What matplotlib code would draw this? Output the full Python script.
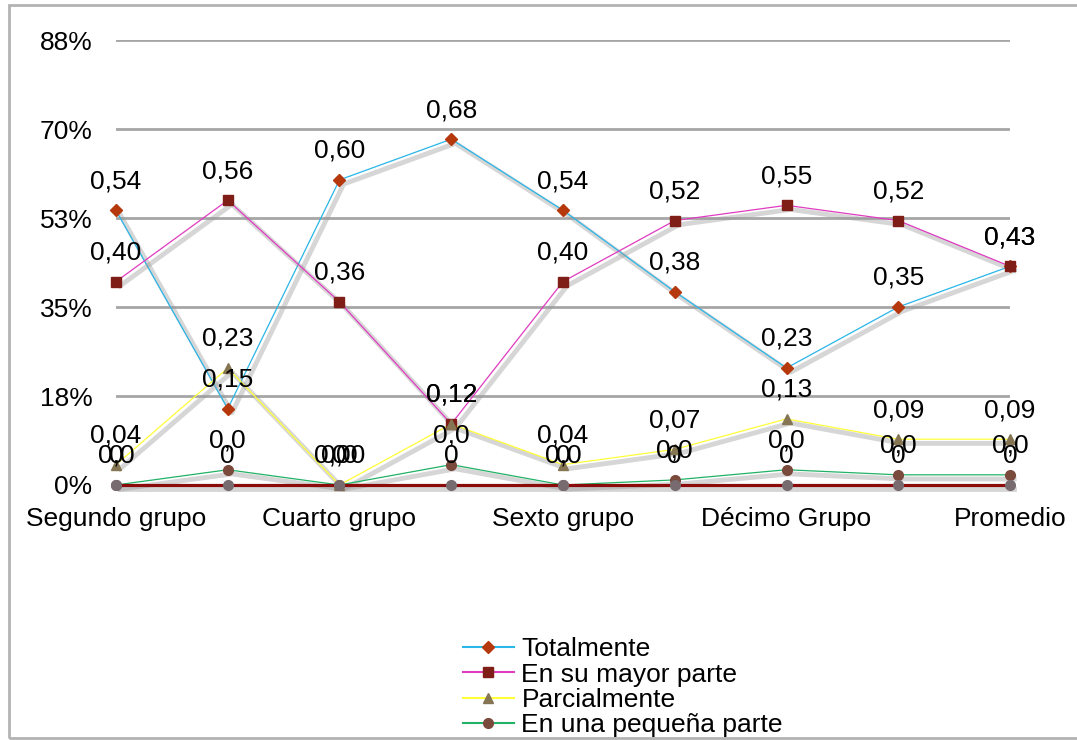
import matplotlib.pyplot as plt
import matplotlib.patheffects as pe
from matplotlib.patches import Rectangle
import numpy as np

plt.rcParams['font.family'] = ['Liberation Sans', 'DejaVu Sans']

# Datos
grupos = ["Segundo grupo", "Tercer grupo", "Cuarto grupo", "Quinto grupo",
          "Sexto grupo", "Noveno grupo", "Décimo Grupo", "Undécimo grupo", "Promedio"]

totalmente = [0.54, 0.15, 0.60, 0.68, 0.54, 0.38, 0.23, 0.35, 0.43]
mayor_parte = [0.40, 0.56, 0.36, 0.12, 0.40, 0.52, 0.55, 0.52, 0.43]
parcialmente = [0.04, 0.23, 0.00, 0.12, 0.04, 0.07, 0.13, 0.09, 0.09]
pequena_parte = [0.00, 0.03, 0.00, 0.04, 0.00, 0.01, 0.03, 0.02, 0.02]
nada = [0, 0, 0, 0, 0, 0, 0, 0, 0]

y_ticks = [0, 0.175, 0.35, 0.525, 0.70, 0.875]
y_labels = ["0%", "18%", "35%", "53%", "70%", "88%"]

# nombre, valores, color línea, color marcador, marcador, decimales etiqueta
series = [
    ("Totalmente", totalmente, "#29B6E8", "#B5390C", "D", 2),
    ("En su mayor parte", mayor_parte, "#E03CC0", "#7E1E16", "s", 2),
    ("Parcialmente", parcialmente, "#FFFF3A", "#857552", "^", 2),
    ("En una pequeña parte", pequena_parte, "#22B265", "#7A4A3C", "o", 1),
    ("Nada", nada, "#8B0A0A", "#776B6F", "o", 0),
]

fig = plt.figure(figsize=(10.77, 7.40), dpi=100)
ax = fig.add_axes([0.1077, 0.3446, 0.8301, 0.6013])

x = np.arange(len(grupos))
sombra = [pe.SimpleLineShadow(offset=(3, -3), shadow_color="#999999", alpha=0.4, linewidth=3.5),
          pe.Normal()]

handles = []
for i, (nombre, vals, lc, mc, mk, dec) in enumerate(series):
    lw = 2.3 if nombre == "Nada" else 0.9
    ms = 7 if mk != "D" else 6
    ax.plot(x, vals, color=lc, linewidth=lw, path_effects=sombra, zorder=3 + i * 0.1,
            clip_on=False)
    ax.plot(x, vals, linestyle="none", marker=mk, markersize=ms,
            markerfacecolor=mc, markeredgecolor=mc, zorder=4 + i * 0.1, clip_on=False)
    for xi, v in zip(x, vals):
        txt = f"{v:.{dec}f}".replace(".", ",")
        ax.annotate(txt, (xi, v), xytext=(0, 21), textcoords="offset points",
                    ha="center", va="center", fontsize=19, zorder=6)
    h, = plt.plot([], [], color=lc, linewidth=1.5, marker=mk, markersize=ms,
                  markerfacecolor=mc, markeredgecolor=mc)
    handles.append(h)

# leyenda: en el original solo se ven las cuatro primeras entradas
fig.legend(handles[:4], [s[0] for s in series[:4]], loc="upper left",
           bbox_to_anchor=(0.418, 0.1565), bbox_transform=fig.transFigure, frameon=False,
           fontsize=19, handlelength=1.9, handletextpad=0.3, labelspacing=0.05, borderpad=0)

ax.set_xlim(0, len(grupos) - 1)
ax.set_ylim(0, 0.875)
ax.set_yticks(y_ticks)
ax.set_yticklabels(y_labels)
ax.set_xticks(x)
ax.set_xticklabels(grupos)
for j, lab in enumerate(ax.get_xticklabels()):
    lab.set_visible(j % 2 == 0)
ax.tick_params(axis="both", length=0, labelsize=19)
ax.tick_params(axis="y", pad=17)
ax.tick_params(axis="x", pad=16)
for s in ax.spines.values():
    s.set_visible(False)
ax.grid(axis="y", color="#A6A6A6", linewidth=2)
ax.set_axisbelow(True)

fig.patches.append(Rectangle((0.008, 0.003), 1.2, 0.99, transform=fig.transFigure,
                             fill=False, edgecolor="#B3B3B3", linewidth=2))

fig.savefig("out.png", dpi=100)
